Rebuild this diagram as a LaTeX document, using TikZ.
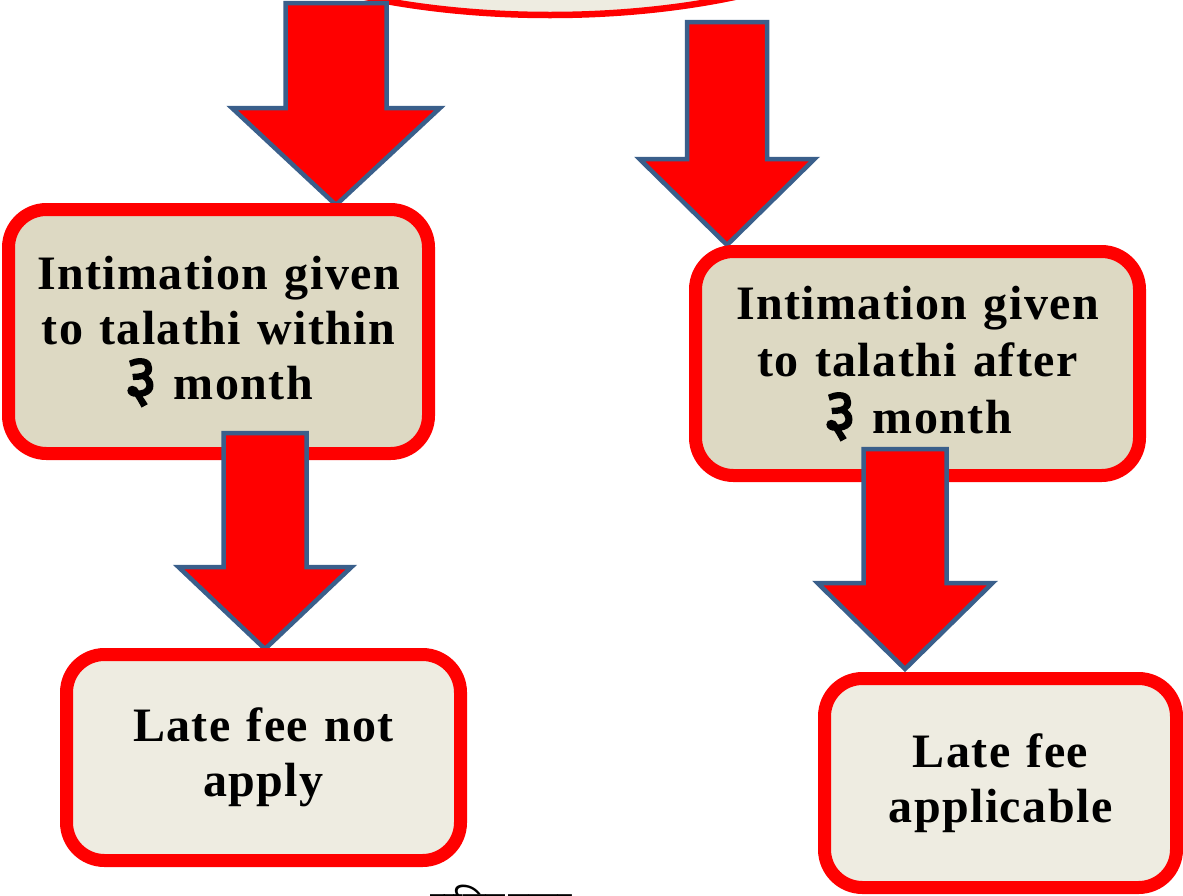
\documentclass[tikz,border=0pt]{standalone}
\usepackage{fontspec}
\setmainfont{Liberation Serif}[LetterSpace=3, WordSpace=1.2]
\newfontfamily\devfont[Script=Devanagari, Scale=1.35]{Noto Sans}
\newfontfamily\devboldfont[Script=Devanagari, Scale=1.35, FakeBold=2.5]{Noto Sans}
\definecolor{arrowblue}{HTML}{3A5F8B}
\definecolor{tanfill}{HTML}{DDD9C3}
\definecolor{lightfill}{HTML}{EEECE1}
\definecolor{boxred}{HTML}{FF0000}
\tikzset{
  blockarrow/.style={fill=boxred, draw=arrowblue, line width=4.5pt, line join=miter},
  flowbox/.style={draw=boxred, line width=13pt, rounded corners=38pt, inner sep=0pt,
    align=center, font=\bfseries\fontsize{48}{55}\selectfont},
  topbox/.style={flowbox, fill=tanfill},
  endbox/.style={flowbox, fill=lightfill},
}
\newcommand\downarrowshape[5]{% tip, shaft half, head half, head length, total length
  \draw[blockarrow] (#1) -- ++({-(#3)},{-(#4)}) -- ++({(#3)-(#2)},0)
    -- ++(0,{-((#5)-(#4))}) -- ++({2*(#2)},0) -- ++(0,{(#5)-(#4)})
    -- ++({(#3)-(#2)},0) -- cycle;}
\newcommand\three{{\devboldfont ३}}
\begin{document}
\begin{tikzpicture}[x=1pt,y=-1pt]
\useasboundingbox (0,0) rectangle (1183,895);
\clip (0,0) rectangle (1183,895);
% top element (cut off)
\draw[draw=boxred, fill=lightfill, line width=6.5pt] (550,-145) ellipse [x radius=400, y radius=160];
% named tips
\coordinate (t1) at (336,205);
\coordinate (t2) at (727,245);
\coordinate (t3) at (265,649);
\coordinate (t4) at (905,669);
\downarrowshape{t1}{50.5}{104}{97}{202}
\downarrowshape{t2}{40}{87.5}{86}{223}
% first level boxes
\node[topbox, minimum width=420pt, minimum height=244pt] (b1) at (218.5,331.5)
  {Intimation given\\to talathi within\\\three{} month};
\node[topbox, minimum width=444pt, minimum height=224pt, font=\bfseries\fontsize{48}{57}\selectfont] (b2) at (917.5,363.5)
  {Intimation given\\to talathi after\\\three{} month};
\downarrowshape{t3}{41.5}{86.5}{82}{216}
\downarrowshape{t4}{41.5}{87.5}{86}{220}
% second level boxes
\node[endbox, minimum width=394pt, minimum height=206pt] (b3) at (263.5,757.5)
  {Late fee not\\apply};
\node[endbox, minimum width=352pt, minimum height=209pt] (b4) at (1000.5,783)
  {Late fee\\applicable};
% footer text (cut off)
\node[anchor=base west, inner sep=0pt, font=\devfont\fontsize{26}{30}\selectfont] (foot) at (430,916) {सचिन\hspace{4pt}पवार};
\end{tikzpicture}
\end{document}
